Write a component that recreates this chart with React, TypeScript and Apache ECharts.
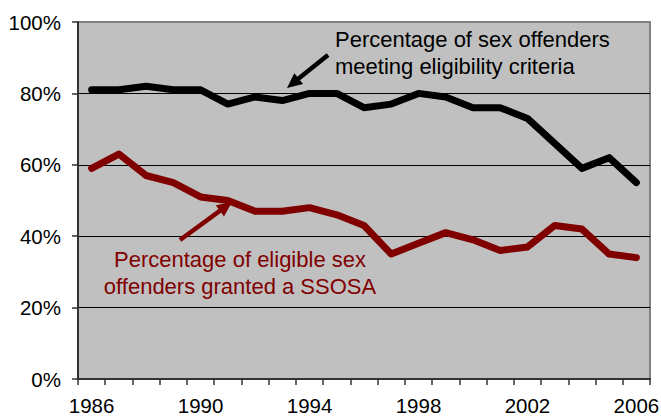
import React, { useEffect, useRef } from "react";
import * as echarts from "echarts";

const years = [
  "1986", "1987", "1988", "1989", "1990", "1991", "1992", "1993", "1994", "1995", "1996",
  "1997", "1998", "1999", "2000", "2001", "2002", "2003", "2004", "2005", "2006",
];
const meetingEligibility = [81, 81, 82, 81, 81, 77, 79, 78, 80, 80, 76, 77, 80, 79, 76, 76, 73, 66, 59, 62, 55];
const grantedSSOSA = [59, 63, 57, 55, 51, 50, 47, 47, 48, 46, 43, 35, 38, 41, 39, 36, 37, 43, 42, 35, 34];
const blackLabel = "Percentage of sex offenders\nmeeting eligibility criteria";
const redLabel = "Percentage of eligible sex\noffenders granted a SSOSA";

const FONT = "'Liberation Sans', Arial, sans-serif";
const RED = "#800000";

function arrow(x1: number, y1: number, x2: number, y2: number, color: string) {
  const dx = x2 - x1;
  const dy = y2 - y1;
  const len = Math.sqrt(dx * dx + dy * dy);
  const ux = dx / len;
  const uy = dy / len;
  const headLen = 15;
  const headW = 7;
  const bx = x2 - ux * headLen;
  const by = y2 - uy * headLen;
  const px = -uy;
  const py = ux;
  return [
    {
      type: "line",
      shape: { x1, y1, x2: bx + ux * 2, y2: by + uy * 2 },
      style: { stroke: color, lineWidth: 4.5 },
      z: 100,
    },
    {
      type: "polygon",
      shape: {
        points: [
          [x2, y2],
          [bx + px * headW, by + py * headW],
          [bx - px * headW, by - py * headW],
        ],
      },
      style: { fill: color },
      z: 100,
    },
  ];
}

export default function App() {
  const ref = useRef<HTMLDivElement>(null);
  useEffect(() => {
    if (!ref.current) return;
    const chart = echarts.init(ref.current, undefined, { renderer: "svg" });
    chart.setOption({
      animation: false,
      textStyle: { fontFamily: FONT },
      grid: {
        left: 78,
        right: 11,
        top: 22,
        bottom: 38,
        containLabel: false,
        outerBoundsMode: "none",
        show: true,
        backgroundColor: "#C0C0C0",
        borderColor: "#808080",
        borderWidth: 2,
      },
      xAxis: {
        type: "category",
        data: years,
        boundaryGap: true,
        axisLine: { show: true, lineStyle: { color: "#333", width: 2 } },
        axisTick: { show: true, interval: 0, length: 6, lineStyle: { color: "#333", width: 1.5 } },
        axisLabel: {
          interval: 3,
          fontSize: 20.5,
          lineHeight: 14,
          color: "#000",
          margin: 19,
          fontFamily: FONT,
        },
        splitLine: { show: false },
      },
      yAxis: {
        type: "value",
        min: 0,
        max: 100,
        interval: 20,
        axisLine: { show: true, lineStyle: { color: "#333", width: 2 } },
        axisTick: { show: true, length: 6, lineStyle: { color: "#333", width: 1.5 } },
        axisLabel: { formatter: "{value}%", fontSize: 20.5, color: "#000", margin: 17, fontFamily: FONT },
        splitLine: {
          show: true,
          lineStyle: { color: ["#000", "#000", "#000", "#000", "#000", "#808080"], width: 1 },
        },
      },
      series: [
        {
          type: "line",
          data: meetingEligibility,
          symbol: "none",
          lineStyle: { color: "#000", width: 7, join: "round", cap: "round" },
          z: 3,
        },
        {
          type: "line",
          data: grantedSSOSA,
          symbol: "none",
          lineStyle: { color: RED, width: 7, join: "round", cap: "round" },
          z: 3,
        },
      ],
      graphic: [
        {
          type: "text",
          x: 335,
          y: 26,
          z: 100,
          style: {
            text: blackLabel,
            fontSize: 22,
            lineHeight: 27,
            fill: "#000",
            fontFamily: FONT,
            textAlign: "left",
            textVerticalAlign: "top",
          },
        },
        {
          type: "text",
          x: 240,
          y: 246,
          z: 100,
          style: {
            text: redLabel,
            fontSize: 22,
            lineHeight: 27,
            fill: RED,
            fontFamily: FONT,
            textAlign: "center",
            textVerticalAlign: "top",
          },
        },
        ...arrow(328, 55, 287, 88, "#000"),
        ...arrow(180, 240, 232, 202, RED),
      ],
    });
    return () => chart.dispose();
  }, []);
  return <div ref={ref} style={{ width: 661, height: 417, position: "absolute", left: 0, top: 0 }} />;
}
